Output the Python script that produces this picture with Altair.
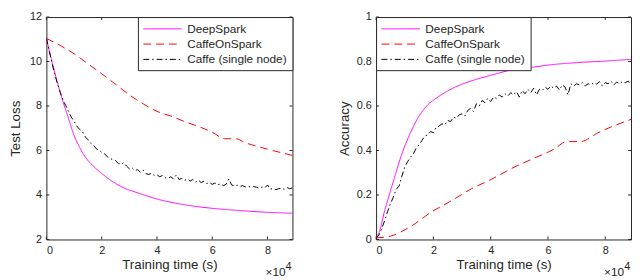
import altair as alt
import pandas as pd

FONT = "Liberation Sans"
AX = "#262626"

SERIES = ["DeepSpark", "CaffeOnSpark", "Caffe (single node)"]
COLORS = ["#ff00ff", "#ff0000", "#000000"]
DASHES = [[1, 0], [8, 5], [6, 3, 1.5, 3]]

X_TICKS = [0, 2, 4, 6, 8]
LOSS_TICKS = [2, 4, 6, 8, 10, 12]
ACC_TICKS = [0, 0.2, 0.4, 0.6, 0.8, 1]

# ---- Test loss panel (time in units of 1e4 s) ----
loss_deep_t = [0, 0.2, 0.4, 0.6, 0.8, 1.0, 1.2, 1.4, 1.7, 2.0, 2.4, 2.8, 3.3, 4.0, 5.0, 6.0, 7.0, 8.0, 8.9]
loss_deep_v = [11.04, 10.0, 9.05, 8.2, 7.45, 6.68, 6.15, 5.72, 5.3, 4.97, 4.6, 4.32, 4.1, 3.82, 3.56, 3.4, 3.3, 3.22, 3.18]

loss_cos_t = [0, 0.5, 1.0, 1.5, 2.0, 2.5, 3.0, 3.5, 4.0, 4.5, 5.0, 5.5, 6.0, 6.45, 6.85, 7.2, 8.0, 8.9]
loss_cos_v = [11.04, 10.72, 10.35, 9.9, 9.45, 8.98, 8.5, 8.1, 7.76, 7.55, 7.3, 7.08, 6.82, 6.53, 6.53, 6.35, 6.06, 5.78]

caffe_t = [0.0, 0.1, 0.2, 0.3, 0.4, 0.5, 0.6, 0.7, 0.8, 0.9,
           1.0, 1.1, 1.2, 1.3, 1.4, 1.5, 1.6, 1.7, 1.8, 1.9,
           2.0, 2.1, 2.2, 2.3, 2.4, 2.5, 2.6, 2.7, 2.8, 2.9,
           3.0, 3.1, 3.2, 3.3, 3.4, 3.5, 3.6, 3.7, 3.8, 3.9,
           4.0, 4.1, 4.2, 4.3, 4.4, 4.5, 4.6, 4.7, 4.8, 4.9,
           5.0, 5.1, 5.2, 5.3, 5.4, 5.5, 5.6, 5.7, 5.8, 5.9,
           6.0, 6.1, 6.2, 6.3, 6.4, 6.5, 6.6, 6.7, 6.8, 6.9,
           7.0, 7.1, 7.2, 7.3, 7.4, 7.5, 7.6, 7.7, 7.8, 7.9,
           8.0, 8.1, 8.2, 8.3, 8.4, 8.5, 8.6, 8.7, 8.8, 8.9]
loss_caffe_v = [11.04, 10.5, 9.95, 9.45, 9.0, 8.62, 8.28, 8.02, 7.76, 7.5,
                7.32, 7.1, 6.95, 6.86, 6.62, 6.5, 6.33, 6.25, 6.08, 6.02,
                5.92, 5.86, 5.72, 5.66, 5.58, 5.55, 5.42, 5.38, 5.45, 5.3,
                5.18, 5.22, 5.1, 5.14, 5.02, 5.12, 4.96, 4.92, 4.98, 4.88,
                4.9, 4.82, 4.88, 4.78, 4.75, 4.82, 4.72, 4.9, 4.7, 4.74,
                4.66, 4.72, 4.62, 4.7, 4.58, 4.66, 4.56, 4.62, 4.52, 4.55,
                4.48, 4.54, 4.46, 4.5, 4.42, 4.48, 4.72, 4.45, 4.4, 4.44,
                4.38, 4.42, 4.36, 4.4, 4.34, 4.38, 4.35, 4.3, 4.36, 4.32,
                4.45, 4.26, 4.3, 4.24, 4.28, 4.3, 4.26, 4.34, 4.28, 4.32]

# ---- Accuracy panel ----
acc_deep_t = [0, 0.1, 0.3, 0.6, 0.9, 1.2, 1.5, 1.8, 2.1, 2.5, 3.0, 3.5, 4.0, 4.8, 5.5, 6.0, 7.0, 8.0, 8.9]
acc_deep_v = [0.01, 0.03, 0.13, 0.26, 0.385, 0.48, 0.555, 0.605, 0.635, 0.668, 0.698, 0.72, 0.738, 0.764, 0.775, 0.784, 0.795, 0.802, 0.81]

acc_cos_t = [0, 0.5, 1.2, 1.95, 2.64, 3.33, 4.02, 4.82, 5.51, 6.2, 6.66, 7.12, 7.81, 8.9]
acc_cos_v = [0.007, 0.015, 0.058, 0.125, 0.175, 0.228, 0.27, 0.325, 0.365, 0.405, 0.44, 0.44, 0.484, 0.54]

acc_caffe_v = [0.007, 0.02, 0.05, 0.085, 0.125, 0.16, 0.19, 0.225, 0.24, 0.285,
               0.325, 0.35, 0.37, 0.385, 0.41, 0.425, 0.445, 0.465, 0.47, 0.485,
               0.48, 0.505, 0.51, 0.52, 0.515, 0.535, 0.53, 0.55, 0.545, 0.56,
               0.565, 0.555, 0.58, 0.59, 0.575, 0.61, 0.6, 0.625, 0.615, 0.635,
               0.62, 0.64, 0.635, 0.65, 0.64, 0.655, 0.645, 0.66, 0.65, 0.665,
               0.64, 0.67, 0.655, 0.675, 0.66, 0.68, 0.65, 0.675, 0.67, 0.685,
               0.675, 0.69, 0.68, 0.69, 0.672, 0.695, 0.685, 0.65, 0.7, 0.69,
               0.7, 0.695, 0.705, 0.69, 0.7, 0.695, 0.705, 0.698, 0.71, 0.69,
               0.705, 0.7, 0.712, 0.695, 0.708, 0.7, 0.71, 0.705, 0.712, 0.695]


def frame(pairs):
    rows = []
    for name, ts, vs in pairs:
        for t, v in zip(ts, vs):
            rows.append({"t": t, "v": v, "s": name})
    return pd.DataFrame(rows)


H = 226


def panel(smooth_df, caffe_df, ytitle, ydomain, yticks, orient, W, tpad):
    leg = alt.Legend(title=None, orient=orient, offset=0, symbolType="M-3,0H3",
                     symbolSize=169, symbolStrokeWidth=1, symbolOffset=13, labelFontSize=12,
                     labelFont=FONT, labelColor=AX, strokeColor=AX, fillColor="white",
                     padding=5, rowPadding=2.5, labelOffset=18, cornerRadius=0)
    x = alt.X("t:Q", scale=alt.Scale(domain=[0, 8.9], nice=False, zero=False),
              axis=alt.Axis(values=X_TICKS, title="Training time (s)", format="~g"))
    y = alt.Y("v:Q", scale=alt.Scale(domain=ydomain, nice=False, zero=False),
              axis=alt.Axis(values=yticks, title=ytitle, format="~g", titlePadding=tpad))
    color = alt.Color("s:N", scale=alt.Scale(domain=SERIES, range=COLORS), legend=leg)
    dash = alt.StrokeDash("s:N", scale=alt.Scale(domain=SERIES, range=DASHES), legend=leg)

    smooth = alt.Chart(smooth_df).mark_line(interpolate="monotone", strokeWidth=1, clip=True).encode(
        x=x, y=y, color=color, strokeDash=dash)
    noisy = alt.Chart(caffe_df).mark_line(strokeWidth=1, clip=True).encode(
        x=x, y=y, color=color, strokeDash=dash)

    xt = pd.DataFrame({"t": X_TICKS})
    yt = pd.DataFrame({"v": yticks})
    xs = alt.X("t:Q")
    ys = alt.Y("v:Q")
    tb = alt.Chart(xt).mark_rule(color=AX, strokeWidth=1).encode(x=xs, y=alt.value(H), y2=alt.value(H - 3))
    tt = alt.Chart(xt).mark_rule(color=AX, strokeWidth=1).encode(x=xs, y=alt.value(0), y2=alt.value(3))
    tl = alt.Chart(yt).mark_rule(color=AX, strokeWidth=1).encode(y=ys, x=alt.value(0), x2=alt.value(3))
    tr = alt.Chart(yt).mark_rule(color=AX, strokeWidth=1).encode(y=ys, x=alt.value(W - 3), x2=alt.value(W))

    base = alt.Chart(pd.DataFrame({"a": ["×10"], "b": ["4"]}))
    m1 = base.mark_text(align="right", baseline="alphabetic", font=FONT, fontSize=12, color=AX).encode(
        x=alt.value(W - 7), y=alt.value(H + 37), text="a:N")
    m2 = base.mark_text(align="left", baseline="alphabetic", font=FONT, fontSize=11, color=AX).encode(
        x=alt.value(W - 7), y=alt.value(H + 31), text="b:N")

    return alt.layer(smooth, noisy, tb, tt, tl, tr, m1, m2).properties(width=W, height=H)


left = panel(
    frame([("DeepSpark", loss_deep_t, loss_deep_v), ("CaffeOnSpark", loss_cos_t, loss_cos_v)]),
    frame([("Caffe (single node)", caffe_t, loss_caffe_v)]),
    "Test Loss", [2, 12], LOSS_TICKS, "top-right", 250, 7)
right = panel(
    frame([("DeepSpark", acc_deep_t, acc_deep_v), ("CaffeOnSpark", acc_cos_t, acc_cos_v)]),
    frame([("Caffe (single node)", caffe_t, acc_caffe_v)]),
    "Accuracy", [0, 1], ACC_TICKS, "top-left", 259, 5)

chart = alt.hconcat(left, right, spacing=44).resolve_legend(
    color="independent", strokeDash="independent").resolve_scale(
    color="independent", strokeDash="independent").properties(padding=0).configure_view(
    stroke=AX, strokeWidth=1).configure_axis(
    grid=False, domain=False, ticks=False, labelFont=FONT, labelFontSize=11,
    labelColor=AX, labelPadding=5, titleFont=FONT, titleFontSize=13.5,
    titleFontWeight="normal", titleColor=AX).configure_axisX(titlePadding=2)

chart.save("out.html", embed_options={"renderer": "svg", "actions": False})
